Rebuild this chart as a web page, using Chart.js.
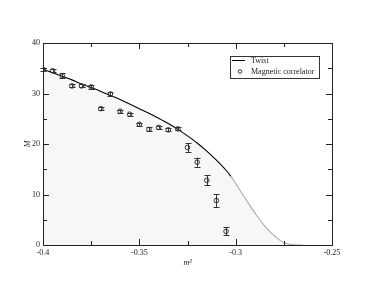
<!DOCTYPE html>
<html>
<head>
<meta charset="utf-8">
<script src="https://cdn.jsdelivr.net/npm/chart.js@4/dist/chart.umd.min.js"></script>
<style>
html,body{margin:0;padding:0;background:#fff;}
#wrap{width:374px;height:289px;position:relative;}
</style>
</head>
<body>
<div id="wrap"><canvas id="c" width="374" height="289"></canvas></div>
<script>
// Twist curve
const twistX = [-0.4,-0.395,-0.39,-0.385,-0.38,-0.375,-0.37,-0.365,-0.36,-0.355,-0.35,-0.345,-0.34,-0.335,-0.33,-0.325,-0.32,-0.315,-0.31,-0.305,-0.3025,-0.3,-0.2975,-0.295,-0.2925,-0.29,-0.285,-0.28,-0.275,-0.27,-0.265];
const twistM = [34.8,34.1,33.4,32.7,31.9,31.2,30.4,29.6,28.8,27.9,27.0,26.1,25.1,24.05,22.9,21.6,20.2,18.6,16.8,14.8,13.6,12.2,10.7,9.2,7.75,6.35,3.8,1.85,0.45,0.05,0];
// Magnetic correlator
const magX = [-0.4,-0.395,-0.39,-0.385,-0.38,-0.375,-0.37,-0.365,-0.36,-0.355,-0.35,-0.345,-0.34,-0.335,-0.33,-0.325,-0.32,-0.315,-0.31,-0.305];
const magM = [34.8,34.5,33.5,31.5,31.5,31.3,27.0,29.9,26.5,25.9,23.9,22.9,23.3,22.8,23.0,19.3,16.4,12.8,8.8,2.7];
const magErr = [0.3,0.3,0.5,0.3,0.3,0.4,0.3,0.3,0.3,0.3,0.3,0.4,0.3,0.3,0.3,0.9,0.9,1.0,1.3,0.8];
const xTicks = [-0.4,-0.35,-0.3,-0.25];
const yTicks = [0,10,20,30,40];
const legendLabels = ['Twist','Magnetic correlator'];

const serif = '"Liberation Serif", "DejaVu Serif", serif';

const frame = {
  id:'frame',
  afterDatasetsDraw(chart){
    const {ctx, chartArea:a, scales:{x,y}} = chart;
    ctx.save();
    // error bars
    ctx.strokeStyle = '#333'; ctx.lineWidth = 1;
    magX.forEach((v,i)=>{
      const px = Math.round(x.getPixelForValue(v))+0.5;
      const y1 = y.getPixelForValue(magM[i]-magErr[i]);
      const y2 = y.getPixelForValue(magM[i]+magErr[i]);
      ctx.beginPath();
      ctx.moveTo(px,y1); ctx.lineTo(px,y2);
      ctx.moveTo(px-3,Math.round(y1)+0.5); ctx.lineTo(px+3,Math.round(y1)+0.5);
      ctx.moveTo(px-3,Math.round(y2)+0.5); ctx.lineTo(px+3,Math.round(y2)+0.5);
      ctx.stroke();
    });
    // frame
    ctx.strokeStyle = '#222'; ctx.lineWidth = 1;
    ctx.strokeRect(Math.round(a.left)+0.5, Math.round(a.top)+0.5, Math.round(a.right-a.left), Math.round(a.bottom-a.top));
    // inward ticks
    ctx.beginPath();
    for (let v=-0.4; v<=-0.2499; v+=0.025){
      const major = Math.abs(Math.round(v/0.05)*0.05 - v) < 1e-6;
      const L = major?6:4;
      const px = Math.round(x.getPixelForValue(v))+0.5;
      ctx.moveTo(px,a.bottom); ctx.lineTo(px,a.bottom-L);
      ctx.moveTo(px,a.top); ctx.lineTo(px,a.top+L);
    }
    for (let v=0; v<=40; v+=5){
      const major = v%10===0;
      const L = major?6:4;
      const py = Math.round(y.getPixelForValue(v))+0.5;
      ctx.moveTo(a.left,py); ctx.lineTo(a.left+L,py);
      ctx.moveTo(a.right,py); ctx.lineTo(a.right-L,py);
    }
    ctx.stroke();
    // legend
    const bx=230.5, by=56.5, bw=89, bh=22;
    ctx.fillStyle='#fff';
    ctx.fillRect(bx,by,bw,bh);
    ctx.strokeStyle='#333';
    ctx.strokeRect(bx,by,bw,bh);
    ctx.beginPath(); ctx.moveTo(232,60.5); ctx.lineTo(245,60.5); ctx.strokeStyle='#000'; ctx.stroke();
    ctx.beginPath(); ctx.arc(240,71.5,1.8,0,Math.PI*2); ctx.strokeStyle='#333'; ctx.stroke();
    ctx.fillStyle='#222'; ctx.font='8px '+serif; ctx.textBaseline='middle'; ctx.textAlign='left';
    ctx.fillText(legendLabels[0],251,60.5);
    ctx.fillText(legendLabels[1],251,71.5);
    ctx.restore();
  }
};

new Chart(document.getElementById('c'), {
  type:'scatter',
  data:{
    datasets:[
      {
        label:legendLabels[0],
        data: twistX.map((v,i)=>({x:v,y:twistM[i]})),
        showLine:true,
        borderColor:'#000',
        borderWidth:1.1,
        pointRadius:0,
        cubicInterpolationMode:'monotone',
        fill:'origin',
        backgroundColor:'rgba(0,0,0,0.03)',
        segment:{ borderColor: c => c.p0.parsed.x >= -0.3035 ? '#aaa' : '#000' },
        order:2
      },
      {
        label:legendLabels[1],
        data: magX.map((v,i)=>({x:v,y:magM[i]})),
        showLine:false,
        pointRadius:2.3,
        pointBorderWidth:1,
        pointBorderColor:'#333',
        pointBackgroundColor:'rgba(0,0,0,0)',
        order:1
      }
    ]
  },
  options:{
    responsive:false,
    animation:false,
    layout:{padding:{top:43,right:42,left:0,bottom:0}},
    plugins:{legend:{display:false},tooltip:{enabled:false}},
    scales:{
      x:{
        type:'linear', min:-0.4, max:-0.25,
        afterFit(s){ s.height = 44; },
        afterBuildTicks(s){ s.ticks = xTicks.map(v=>({value:v})); },
        grid:{display:false, drawTicks:false},
        border:{display:false},
        ticks:{ padding:3, color:'#222', font:{family:serif,size:8}, maxRotation:0, autoSkip:false,
          callback:v=>String(Math.round(v*100)/100) },
        title:{display:true, text:'m²', color:'#222', font:{family:serif,size:8,style:'italic'}, padding:{top:0,bottom:21}}
      },
      y:{
        type:'linear', min:0, max:40,
        afterFit(s){ s.width = 43; },
        afterBuildTicks(s){ s.ticks = yTicks.map(v=>({value:v})); },
        grid:{display:false, drawTicks:false},
        border:{display:false},
        ticks:{ padding:3, color:'#222', font:{family:serif,size:8} },
        title:{display:true, text:'M', color:'#222', font:{family:serif,size:8,style:'italic'}, padding:{top:23,bottom:0}}
      }
    }
  },
  plugins:[frame]
});
</script>
</body>
</html>
